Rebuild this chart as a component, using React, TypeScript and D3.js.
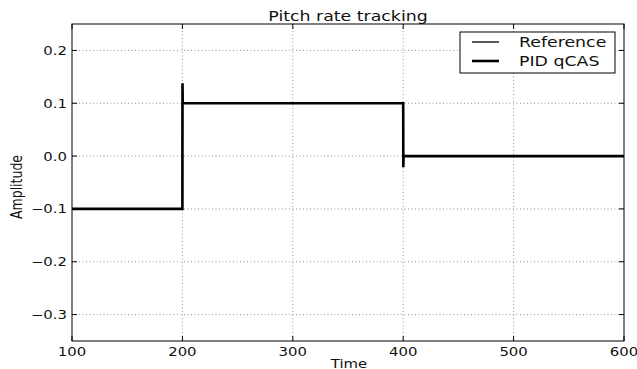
import React, { useEffect, useRef } from 'react';
import * as d3 from 'd3';

// reference step signal
const refTime = [100, 200, 200, 400, 400, 600];
const refValue = [-0.1, -0.1, 0.1, 0.1, 0.0, 0.0];

// PID qCAS response (overshoot at the steps)
const pidTime = [100, 200, 200.1, 200.3, 201, 260, 400, 400.1, 400.3, 401, 600];
const pidValue = [-0.1, -0.1, 0.138, 0.102, 0.1, 0.1, 0.1, -0.021, -0.002, 0.0, 0.0];

const xTicks = [100, 200, 300, 400, 500, 600];
const yTicks = [-0.3, -0.2, -0.1, 0.0, 0.1, 0.2];

const W = 637;
const H = 369;
const margin = { top: 24, right: 13, bottom: 28, left: 72 };
const SX = 1.24; // the picture is stretched sideways

const App = () => {
    const svgRef = useRef<SVGSVGElement>(null);

    useEffect(() => {
        const svg = d3.select(svgRef.current);
        svg.selectAll('*').remove();

        const font = 'DejaVu Sans, sans-serif';
        const x = d3.scaleLinear().domain([100, 600]).range([margin.left, W - margin.right]);
        const y = d3.scaleLinear().domain([-0.35, 0.25]).range([H - margin.bottom, margin.top]);

        const label = (px: number, py: number, txt: string, size: number, anchor: string, rot = 0) =>
            svg.append('text')
                .attr('transform', `translate(${px},${py}) rotate(${rot}) scale(${rot ? 1 : SX},${rot ? SX : 1})`)
                .attr('text-anchor', anchor).attr('font-family', font).attr('font-size', size)
                .attr('fill', '#111').text(txt);

        svg.append('rect').attr('width', W).attr('height', H).attr('fill', 'white');

        // grid
        const grid = svg.append('g').attr('stroke', '#000').attr('stroke-width', 0.6)
            .attr('stroke-dasharray', '1 2.5').attr('opacity', 0.7);
        grid.selectAll('.gx').data(xTicks.slice(1, -1)).enter().append('line')
            .attr('x1', d => x(d)).attr('x2', d => x(d))
            .attr('y1', margin.top).attr('y2', H - margin.bottom);
        grid.selectAll('.gy').data(yTicks).enter().append('line')
            .attr('x1', margin.left).attr('x2', W - margin.right)
            .attr('y1', d => y(d)).attr('y2', d => y(d));

        const fmt = (v: number) => (v < 0 ? '\u2212' + Math.abs(v).toFixed(1) : v.toFixed(1));

        // inward ticks on all sides
        const ticks = svg.append('g').attr('stroke', '#000').attr('stroke-width', 1);
        xTicks.forEach(t => {
            ticks.append('line').attr('x1', x(t)).attr('x2', x(t)).attr('y1', H - margin.bottom).attr('y2', H - margin.bottom - 5);
            ticks.append('line').attr('x1', x(t)).attr('x2', x(t)).attr('y1', margin.top).attr('y2', margin.top + 5);
        });
        yTicks.forEach(t => {
            ticks.append('line').attr('x1', margin.left).attr('x2', margin.left + 5).attr('y1', y(t)).attr('y2', y(t));
            ticks.append('line').attr('x1', W - margin.right).attr('x2', W - margin.right - 5).attr('y1', y(t)).attr('y2', y(t));
        });

        xTicks.forEach(t => label(x(t), H - margin.bottom + 14.5, String(t), 12, 'middle'));
        yTicks.forEach(t => label(margin.left - 5, y(t) + 4.5, fmt(t), 12, 'end'));

        const line = d3.line<[number, number]>().x(d => x(d[0])).y(d => y(d[1]));
        const refData = refTime.map((t, i) => [t, refValue[i]] as [number, number]);
        const pidData = pidTime.map((t, i) => [t, pidValue[i]] as [number, number]);

        svg.append('path').attr('d', line(pidData)).attr('fill', 'none')
            .attr('stroke', '#000').attr('stroke-width', 2.6);
        svg.append('path').attr('d', line(refData)).attr('fill', 'none')
            .attr('stroke', '#000').attr('stroke-width', 1.3);

        // frame
        svg.append('rect').attr('x', margin.left).attr('y', margin.top)
            .attr('width', W - margin.left - margin.right).attr('height', H - margin.top - margin.bottom)
            .attr('fill', 'none').attr('stroke', '#000').attr('stroke-width', 1);

        label((margin.left + W - margin.right) / 2, 20.5, 'Pitch rate tracking', 14, 'middle');
        label(349, 367.5, 'Time', 12, 'middle');
        label(22, 187, 'Amplitude', 12.5, 'middle', -90);

        // legend
        const lg = svg.append('g').attr('transform', 'translate(460,32)');
        lg.append('rect').attr('width', 155).attr('height', 41).attr('fill', 'white')
            .attr('stroke', '#000').attr('stroke-width', 1);
        const items = [{ name: 'Reference', w: 1.3 }, { name: 'PID qCAS', w: 2.6 }];
        items.forEach((it, i) => {
            const cy = 10 + i * 19;
            lg.append('line').attr('x1', 12).attr('x2', 39).attr('y1', cy).attr('y2', cy)
                .attr('stroke', '#000').attr('stroke-width', it.w);
            lg.append('text').attr('transform', `translate(59,${cy + 5}) scale(${SX},1)`)
                .attr('font-family', font).attr('font-size', 14).attr('fill', '#111').text(it.name);
        });
    }, []);

    return <svg ref={svgRef} width={W} height={H} style={{ position: 'absolute', left: 0, top: 0 }} />;
};

export default App;
